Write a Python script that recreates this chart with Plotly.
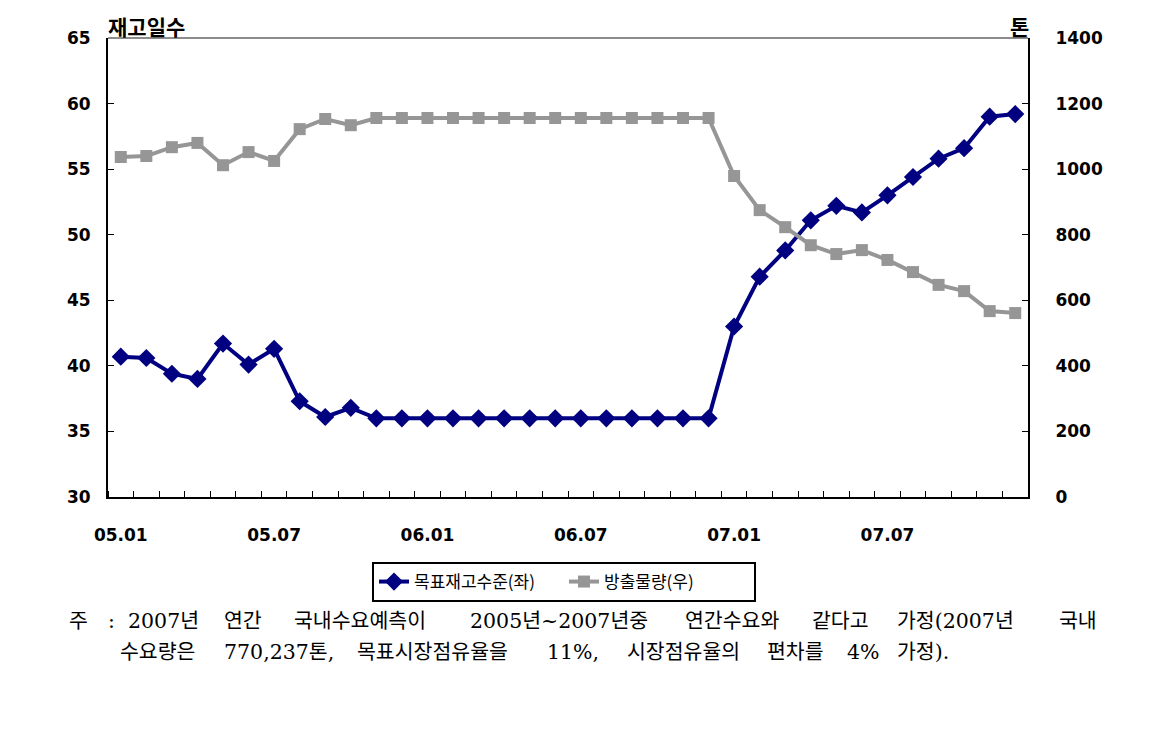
import plotly.graph_objects as go

months = ["05.01","05.02","05.03","05.04","05.05","05.06","05.07","05.08","05.09","05.10","05.11","05.12",
          "06.01","06.02","06.03","06.04","06.05","06.06","06.07","06.08","06.09","06.10","06.11","06.12",
          "07.01","07.02","07.03","07.04","07.05","07.06","07.07","07.08","07.09","07.10","07.11","07.12"]
target_days = [40.7, 40.6, 39.4, 39.0, 41.7, 40.1, 41.3, 37.3, 36.1, 36.8, 36.0, 36.0,
               36.0, 36.0, 36.0, 36.0, 36.0, 36.0, 36.0, 36.0, 36.0, 36.0, 36.0, 36.0,
               43.0, 46.8, 48.8, 51.1, 52.2, 51.7, 53.0, 54.4, 55.8, 56.6, 59.0, 59.2]
release_tons = [1037, 1040, 1067, 1080, 1012, 1052, 1025, 1122, 1153, 1134, 1156, 1156,
                1156, 1156, 1156, 1156, 1156, 1156, 1156, 1156, 1156, 1156, 1156, 1156,
                979, 875, 823, 768, 741, 753, 723, 686, 647, 628, 567, 561]
label_months = ["05.01","05.07","06.01","06.07","07.01","07.07"]
left_ticks = [30, 35, 40, 45, 50, 55, 60, 65]
right_ticks = [0, 200, 400, 600, 800, 1000, 1200, 1400]

note_line1 = ["주", ":", "2007년", "연간", "국내수요예측이", "2005년~2007년중", "연간수요와",
              "같다고", "가정(2007년", "국내"]
note_line2 = ["수요량은", "770,237톤,", "목표시장점유율을", "11%,", "시장점유율의", "편차를",
              "4%", "가정)."]
# left edges (screen px) of each word
note_x1 = [67, 106, 126, 222, 292, 468, 683, 810, 895, 1057]
note_x2 = [118, 222, 355, 545, 625, 765, 845, 895]

x = list(range(len(months)))
tickvals = [months.index(m) for m in label_months]

KFONT = "Noto Sans CJK KR"
TFONT = "DejaVu Sans, sans-serif"

# plot area in screen px (page body has an 8px offset)
PL, PR, PT, PB = 108, 1028, 38, 497
OFF = 8
W, H = 1168 - OFF * 2, 733 - OFF * 2

def px(xs):
    return (xs - PL) / (PR - PL)

def py(ys):
    return (PB - ys) / (PB - PT)

fig = go.Figure()
fig.add_trace(go.Scatter(
    x=x, y=target_days, name="목표재고수준(좌)", mode="lines+markers",
    line=dict(color="#000080", width=4),
    marker=dict(symbol="diamond", size=14, color="#000080"),
    yaxis="y"))
fig.add_trace(go.Scatter(
    x=x, y=release_tons, name="방출물량(우)", mode="lines+markers",
    line=dict(color="#969696", width=4),
    marker=dict(symbol="square", size=12, color="#969696"),
    yaxis="y2"))

fig.update_layout(
    width=W, height=H,
    margin=dict(l=PL - OFF, r=W - (PR - OFF), t=PT - OFF, b=H - (PB - OFF)),
    paper_bgcolor="white", plot_bgcolor="white",
    showlegend=True,
    legend=dict(orientation="h", x=px(372), y=py(562), xanchor="left", yanchor="top",
                bordercolor="black", borderwidth=2, bgcolor="white",
                font=dict(family=KFONT, size=17, color="black"),
                entrywidth=145, entrywidthmode="pixels", tracegroupgap=0),
    xaxis=dict(range=[-0.5, len(months) - 0.5], tickvals=tickvals, ticktext=label_months,
               ticks="", showgrid=False, zeroline=False, automargin=False,
               showline=True, linecolor="black", linewidth=2,
               tickfont=dict(family=TFONT, size=17, color="black", weight="bold"),
               ticklabelstandoff=22,
               minor=dict(tickvals=[i - 0.5 for i in range(len(months) + 1)],
                          ticks="inside", ticklen=6, tickcolor="black", tickwidth=1)),
    yaxis=dict(range=[30, 65], tickvals=left_ticks, ticks="inside", ticklen=6,
               tickcolor="black", showgrid=False, zeroline=False, automargin=False,
               showline=True, linecolor="black", linewidth=2,
               tickfont=dict(family=TFONT, size=17, color="black", weight="bold"),
               ticklabelstandoff=12),
    yaxis2=dict(range=[0, 1400], tickvals=right_ticks, ticks="inside", ticklen=6,
                tickcolor="black", overlaying="y", side="right", showgrid=False,
                zeroline=False, showline=True, linecolor="black", linewidth=2,
                automargin=False,
                tickfont=dict(family=TFONT, size=17, color="black", weight="bold"),
                ticklabelstandoff=22),
)

fig.add_shape(type="line", xref="paper", yref="paper", x0=0, x1=1, y0=1, y1=1,
              line=dict(color="#8c8c8c", width=2))

fig.add_annotation(text="<b>재고일수</b>", xref="paper", yref="paper", x=px(106), y=py(26),
                   xanchor="left", yanchor="middle", showarrow=False,
                   font=dict(family=KFONT, size=21, color="black"))
fig.add_annotation(text="<b>톤</b>", xref="paper", yref="paper", x=px(1031), y=py(26),
                   xanchor="right", yanchor="middle", showarrow=False,
                   font=dict(family=KFONT, size=21, color="black"))

note_font = dict(family="DejaVu Serif, " + KFONT, size=20.5, color="black")
for word, xs in zip(note_line1, note_x1):
    fig.add_annotation(text=word, xref="paper", yref="paper", x=px(xs), y=py(621),
                       xanchor="left", yanchor="middle", showarrow=False, font=note_font)
for word, xs in zip(note_line2, note_x2):
    fig.add_annotation(text=word, xref="paper", yref="paper", x=px(xs), y=py(652),
                       xanchor="left", yanchor="middle", showarrow=False, font=note_font)

fig.write_html("out.html")
